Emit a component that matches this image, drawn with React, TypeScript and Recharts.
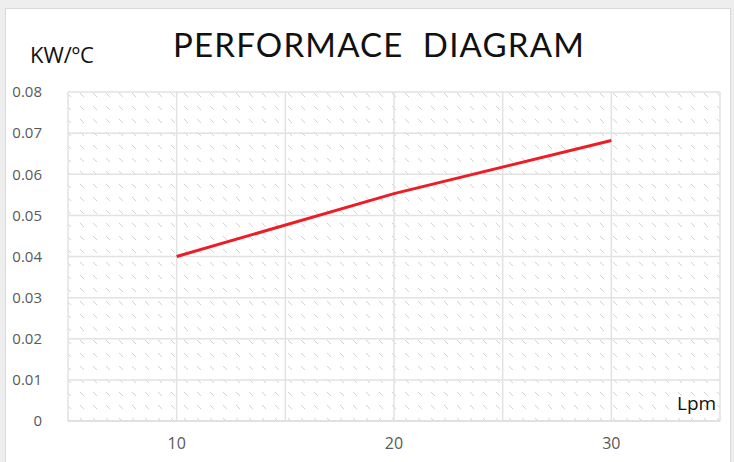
import { CartesianGrid, Line, LineChart, XAxis, YAxis } from "recharts";

const flowLpm = [10, 20, 30];
const powerKw = [0.04, 0.0553, 0.0682];
const xTicks = [5, 10, 15, 20, 25, 30, 35];
const xLabels = [10, 20, 30];
const yTicks = [0, 0.01, 0.02, 0.03, 0.04, 0.05, 0.06, 0.07, 0.08];

const data = flowLpm.map((lpm, i) => ({ lpm, kw: powerKw[i] }));

const font = "'Open Sans', 'Noto Sans', sans-serif";

export default function App() {
  return (
    <div
      style={{
        position: "absolute",
        left: 0,
        top: 0,
        width: 734,
        height: 462,
        background: "#eeeeee",
        overflow: "hidden",
        fontFamily: font,
      }}
    >
      <div
        style={{
          position: "absolute",
          left: 5,
          top: 8,
          width: 726,
          height: 460,
          background: "#ffffff",
          border: "1px solid #d9d9d9",
          boxSizing: "border-box",
        }}
      />
      <div
        style={{
          position: "absolute",
          left: 173,
          top: 24,
          fontSize: 33,
          letterSpacing: 1.2,
          whiteSpace: "pre",
          color: "#111",
          fontFamily: "Lato, 'Open Sans', sans-serif",
        }}
      >
        PERFORMACE  DIAGRAM
      </div>
      <div
        style={{
          position: "absolute",
          left: 30,
          top: 39,
          fontSize: 22,
          color: "#111",
        }}
      >
        KW/ºC
      </div>
      <div style={{ position: "absolute", left: 0, top: 0 }}>
        <LineChart
          width={734}
          height={462}
          data={data}
          margin={{ top: 92, right: 14, bottom: 11, left: 8 }}
        >
          <defs>
            <pattern id="hatch" width="13" height="13" patternUnits="userSpaceOnUse">
              <rect width="13" height="13" fill="#ffffff" />
              <line x1="2" y1="2" x2="6" y2="6" stroke="#d2d2d2" strokeWidth="1" />
            </pattern>
          </defs>
          <CartesianGrid
            stroke="#e2e2e2"
            strokeWidth={1.5}
            fill="url(#hatch)"
            fillOpacity={1}
            verticalValues={xTicks}
          />
          <XAxis
            dataKey="lpm"
            type="number"
            domain={[5, 35]}
            ticks={xTicks}
            interval={0}
            tickFormatter={(v: number) => (xLabels.includes(v) ? String(v) : "")}
            axisLine={{ stroke: "#d9d9d9" }}
            tickLine={false}
            tick={{ fill: "#595959", fontSize: 16, fontFamily: font }}
            tickMargin={11}
            height={30}
          />
          <YAxis
            type="number"
            domain={[0, 0.08]}
            ticks={yTicks}
            interval={0}
            axisLine={false}
            tickLine={false}
            tick={{ fill: "#595959", fontSize: 15, fontFamily: font }}
            tickMargin={20}
            width={60}
          />
          <Line
            dataKey="kw"
            stroke="#ee1c24"
            strokeWidth={3}
            dot={false}
            isAnimationActive={false}
          />
        </LineChart>
      </div>
      <div
        style={{
          position: "absolute",
          left: 677,
          top: 390,
          fontSize: 19,
          color: "#111",
        }}
      >
        Lpm
      </div>
    </div>
  );
}
